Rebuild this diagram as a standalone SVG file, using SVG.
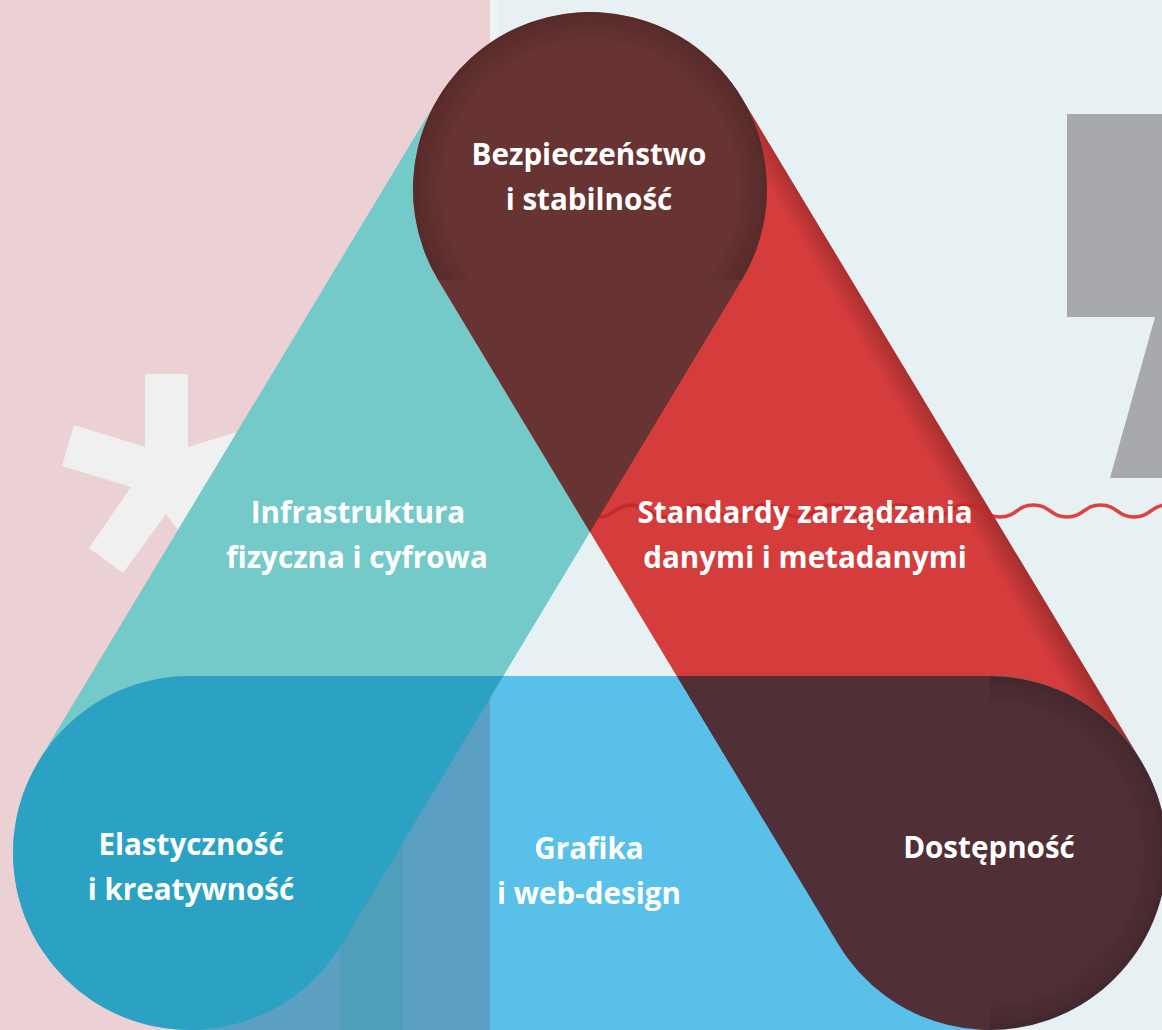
<svg xmlns="http://www.w3.org/2000/svg" width="1162" height="1030" viewBox="0 0 1162 1030">
<defs>
<style>
.lbl{font-family:"Open Sans","Noto Sans","DejaVu Sans",sans-serif;font-weight:700;font-size:29.6px;fill:#ffffff;text-anchor:middle}
.wave{fill:none;stroke-width:3.5;stroke-linecap:round}
</style>
<path id="pTeal" d="M438.35 97.65 A177 177 0 0 1 741.65 280.35 L341.65 944.35 A177 177 0 0 1 38.35 761.65 Z"/>
<path id="pRed" d="M438.35 280.35 A177 177 0 0 1 741.65 97.65 L1141.65 761.65 A177 177 0 0 1 838.35 944.35 Z"/>
<path id="pBlue" d="M190 676 L990 676 A177 177 0 0 1 990 1030 L190 1030 A177 177 0 0 1 190 676 Z"/>
<path id="pWave" d="M598 517 c16.75 0 16.75 -12 33.5 -12 s16.75 12 33.5 12 s16.75 -12 33.5 -12 s16.75 12 33.5 12 s16.75 -12 33.5 -12 s16.75 12 33.5 12 s16.75 -12 33.5 -12 s16.75 12 33.5 12 s16.75 -12 33.5 -12 s16.75 12 33.5 12 s16.75 -12 33.5 -12 s16.75 12 33.5 12 s16.75 -12 33.5 -12 s16.75 12 33.5 12 s16.75 -12 33.5 -12 s16.75 12 33.5 12 s16.75 -12 33.5 -12 s16.75 12 33.5 12"/>
<clipPath id="cTeal"><use href="#pTeal"/></clipPath>
<clipPath id="cRed"><use href="#pRed"/></clipPath>
<clipPath id="cBlue"><use href="#pBlue"/></clipPath>
<clipPath id="cTop"><rect x="0" y="0" width="1162" height="280"/></clipPath>
<clipPath id="cRight"><rect x="990" y="600" width="200" height="430"/></clipPath>
<linearGradient id="gRed" gradientUnits="userSpaceOnUse" x1="920" y1="443" x2="942" y2="430">
<stop offset="0" stop-color="#d43d3c"/>
<stop offset="1" stop-color="#a82f2f"/>
</linearGradient>
<radialGradient id="gRim" gradientUnits="userSpaceOnUse" cx="0" cy="0" r="177">
<stop offset="0.82" stop-color="#000" stop-opacity="0"/>
<stop offset="1" stop-color="#000" stop-opacity="0.16"/>
</radialGradient>
</defs>

<g id="background">
<rect x="0" y="0" width="490" height="1030" fill="#ebd0d4"/>
<rect x="490" y="0" width="672" height="1030" fill="#e7f1f3"/>
<rect x="490" y="0" width="8" height="1030" fill="#eef3f4"/>
<polygon fill="#f0f0f0" points="145,374 188,374 188,447 259,425 271,466 202,487 244,548 210,573 166,514 123,573 89,548 131,487 62,466 74,425 145,447"/>
<polygon fill="#a8a9ac" points="1067,114 1170,114 1170,478 1110,478 1155,317 1067,317"/>
<use href="#pWave" class="wave" stroke="#e2403f"/>
</g>

<g id="bars">
<use id="bar-teal" href="#pTeal" fill="#74c9c9"/>
<use id="bar-red" href="#pRed" fill="url(#gRed)"/>
<use id="bar-blue" href="#pBlue" fill="#59c1e9"/>
<g clip-path="url(#cBlue)">
<rect x="0" y="676" width="490" height="354" fill="#5b9fc5"/>
<rect x="340" y="676" width="63" height="354" fill="#4f9eba"/>
</g>
<g clip-path="url(#cRed)"><use href="#pWave" class="wave" stroke="#c22a2b"/></g>
</g>

<g id="overlaps">
<g clip-path="url(#cRed)"><use href="#pTeal" fill="#683333"/></g>
<g clip-path="url(#cBlue)"><use href="#pTeal" fill="#2ba2c3"/></g>
<g clip-path="url(#cBlue)"><use href="#pRed" fill="#512f37"/></g>
</g>

<g id="rims">
<g clip-path="url(#cTop)"><g transform="translate(590 189)"><circle cx="0" cy="0" r="177" fill="url(#gRim)"/></g></g>
<g clip-path="url(#cRight)"><g transform="translate(990 853)"><circle cx="0" cy="0" r="177" fill="url(#gRim)"/></g></g>
</g>

<g id="connectors"></g>

<g id="node-security"><text class="lbl" x="589" y="165">Bezpieczeństwo</text><text class="lbl" x="589" y="210">i stabilność</text></g>
<g id="node-infrastructure"><text class="lbl" x="358" y="523">Infrastruktura</text><text class="lbl" x="357" y="568">fizyczna i cyfrowa</text></g>
<g id="node-standards"><text class="lbl" x="805" y="523">Standardy zarządzania</text><text class="lbl" x="805" y="568">danymi i metadanymi</text></g>
<g id="node-flexibility"><text class="lbl" x="191" y="855">Elastyczność</text><text class="lbl" x="191" y="900">i kreatywność</text></g>
<g id="node-graphics"><text class="lbl" x="589" y="859">Grafika</text><text class="lbl" x="589" y="904">i web-design</text></g>
<g id="node-accessibility"><text class="lbl" x="989" y="858">Dostępność</text></g>
</svg>
